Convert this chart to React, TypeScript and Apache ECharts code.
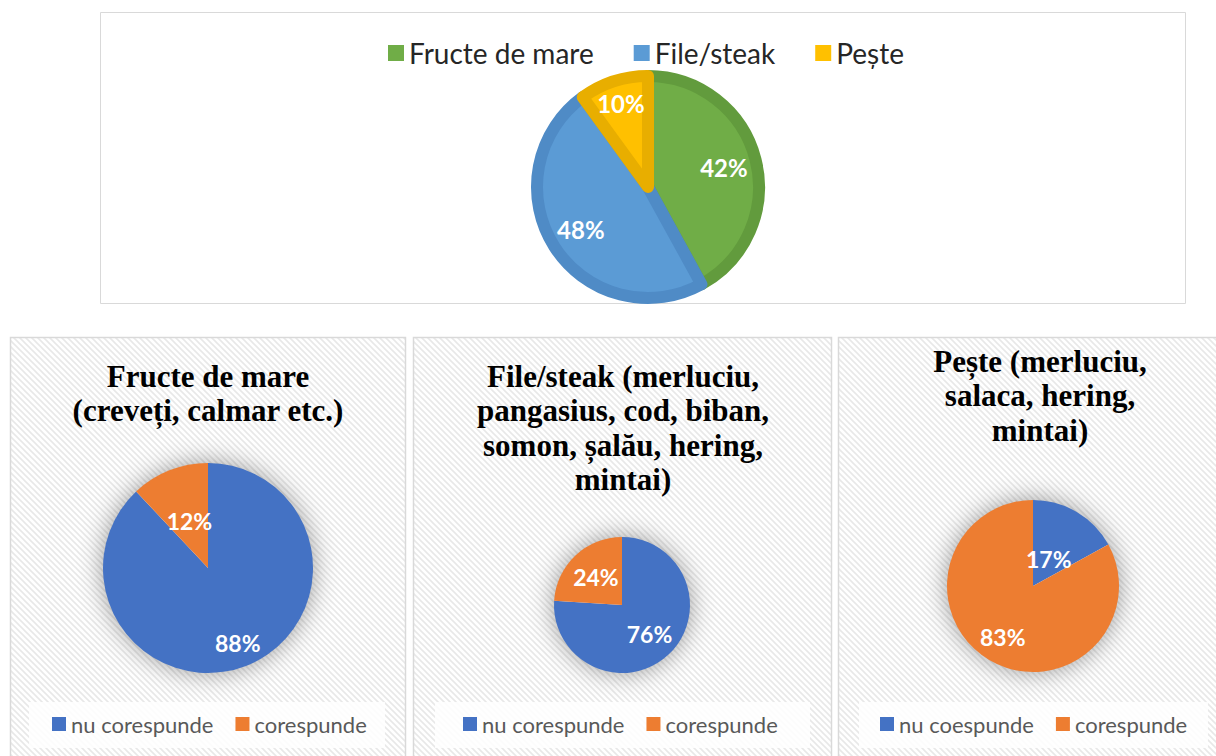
import React, { useEffect, useRef } from "react";
import * as echarts from "echarts";

// ---- data ----
const mainCategories = ["Fructe de mare", "File/steak", "Pește"];
const mainValues = [42, 48, 10];

const panelTitles = [
  "Fructe de mare\n(creveți, calmar etc.)",
  "File/steak (merluciu,\npangasius, cod, biban,\nsomon, șalău, hering,\nmintai)",
  "Pește (merluciu,\nsalaca, hering,\nmintai)",
];
const panel1Categories = ["nu corespunde", "corespunde"];
const panel1Values = [88, 12];
const panel2Categories = ["nu corespunde", "corespunde"];
const panel2Values = [76, 24];
const panel3Categories = ["nu coespunde", "corespunde"];
const panel3Values = [17, 83];

// ---- styles / layout ----
const mainColors = ["#70AD47", "#5B9BD5", "#FFC000"];
const mainBorders = ["#629B3D", "#4F8BC6", "#E8AE00"];
const pairColors = ["#4472C4", "#ED7D31"];

const topBox = { x: 100, y: 12, w: 1085, h: 291 };
const mainPie = { cx: 648, cy: 187, r: 117, labelPos: [0.67, 0.68, 0.75] };

const panels = [
  { x: 10, y: 337, w: 395, h: 430, titleX: 208, titleY: 359, cx: 208, cy: 568, r: 105, labelPos: [0.77, 0.48], legendLeft: 52, lbx: 29, lbw: 356 },
  { x: 413, y: 337, w: 418, h: 430, titleX: 623, titleY: 359, cx: 622, cy: 605, r: 68, labelPos: [0.59, 0.56], legendLeft: 463, lbx: 435, lbw: 375 },
  { x: 838, y: 337, w: 400, h: 430, titleX: 1040, titleY: 344, cx: 1033, cy: 586, r: 86, labelPos: [0.36, 0.69], legendLeft: 880, lbx: 859, lbw: 349 },
];
const panelData = [
  { cats: panel1Categories, vals: panel1Values },
  { cats: panel2Categories, vals: panel2Values },
  { cats: panel3Categories, vals: panel3Values },
];

function stripeTile() {
  const c = document.createElement("canvas");
  c.width = 6;
  c.height = 6;
  const g = c.getContext("2d")!;
  g.fillStyle = "#ffffff";
  g.fillRect(0, 0, 6, 6);
  g.strokeStyle = "#e8e8e8";
  g.lineWidth = 1.6;
  g.beginPath();
  g.moveTo(-1, -1);
  g.lineTo(7, 7);
  g.moveTo(-1, 5);
  g.lineTo(1, 7);
  g.moveTo(5, -1);
  g.lineTo(7, 1);
  g.stroke();
  return c.toDataURL();
}

const radialLayout = (cx: number, cy: number, R: number, factors: number[]) => (p: any) => {
  const rc = p.labelRect;
  const lx = rc.x + rc.width / 2;
  const ly = rc.y + rc.height / 2;
  const d0 = Math.hypot(lx - cx, ly - cy) || 1;
  const s = (factors[p.dataIndex] * R) / d0;
  return { dx: (lx - cx) * (s - 1), dy: (ly - cy) * (s - 1) };
};

const pctFormatter = (p: any) => Math.round(p.percent) + "%";

export default function App() {
  const ref = useRef<HTMLDivElement>(null);
  useEffect(() => {
    if (!ref.current) return;
    const chart = echarts.init(ref.current, undefined, { renderer: "svg" });
    const tile = stripeTile();
    const pattern: any = { image: tile, repeat: "repeat", imageWidth: 6, imageHeight: 6 };

    const graphics: any[] = [
      {
        type: "rect",
        z: -10,
        shape: { x: topBox.x + 0.5, y: topBox.y + 0.5, width: topBox.w, height: topBox.h },
        style: { fill: "#ffffff", stroke: "#d9d9d9", lineWidth: 1 },
        silent: true,
      },
    ];
    panels.forEach((pn, i) => {
      graphics.push({
        type: "rect",
        z: -10,
        shape: { x: pn.x + 0.5, y: pn.y + 0.5, width: pn.w, height: pn.h },
        style: { fill: pattern, stroke: "#d9d9d9", lineWidth: 1.5 },
        silent: true,
      });
      graphics.push({
        type: "circle",
        z: -5,
        shape: { cx: pn.cx, cy: pn.cy, r: pn.r - 1 },
        style: { fill: "#ffffff", shadowBlur: 26, shadowColor: "rgba(0,0,0,0.42)" },
        silent: true,
      });
      graphics.push({
        type: "rect",
        z: -5,
        shape: { x: pn.lbx, y: 702, width: pn.lbw, height: 46 },
        style: { fill: "rgba(255,255,255,0.85)" },
        silent: true,
      });
      graphics.push({
        type: "text",
        z: 5,
        x: pn.titleX,
        y: pn.titleY,
        style: {
          text: panelTitles[i],
          align: "center",
          verticalAlign: "top",
          fontFamily: "'Liberation Serif', 'Times New Roman', serif",
          fontWeight: "bold",
          fontSize: 31,
          lineHeight: 34.5,
          fill: "#000000",
        },
        silent: true,
      });
    });

    const series: any[] = [
      {
        type: "pie",
        center: [mainPie.cx, mainPie.cy],
        radius: mainPie.r - 6,
        startAngle: 90,
        clockwise: true,
        avoidLabelOverlap: false,
        silent: true,
        emphasis: { disabled: true },
        data: mainCategories.map((n, i) => ({
          name: n,
          value: mainValues[i],
          itemStyle: { color: mainColors[i], borderColor: mainBorders[i], borderWidth: 12, borderJoin: "round" },
        })),
        label: {
          show: true,
          position: "inside",
          formatter: pctFormatter,
          color: "#ffffff",
          fontFamily: "Lato",
          fontWeight: "bold",
          fontSize: 24,
        },
        labelLine: { show: false },
        labelLayout: radialLayout(mainPie.cx, mainPie.cy, mainPie.r, mainPie.labelPos),
      },
    ];
    panels.forEach((pn, i) => {
      series.push({
        type: "pie",
        center: [pn.cx, pn.cy],
        radius: pn.r,
        startAngle: 90,
        clockwise: true,
        avoidLabelOverlap: false,
        silent: true,
        emphasis: { disabled: true },
        data: panelData[i].cats.map((n, j) => ({
          name: n,
          value: panelData[i].vals[j],
          itemStyle: { color: pairColors[j] },
        })),
        label: {
          show: true,
          position: "inside",
          formatter: pctFormatter,
          color: "#ffffff",
          fontFamily: "Lato",
          fontWeight: "bold",
          fontSize: 23,
        },
        labelLine: { show: false },
        labelLayout: radialLayout(pn.cx, pn.cy, pn.r, pn.labelPos),
      });
    });

    const legends: any[] = [
      {
        data: mainCategories,
        left: 388,
        top: 39,
        padding: 0,
        icon: "rect",
        itemWidth: 16,
        itemHeight: 16,
        itemGap: 40,
        selectedMode: false,
        itemStyle: { borderWidth: 0 },
        textStyle: { fontFamily: "Lato", fontSize: 28, color: "#262626" },
      },
    ];
    panels.forEach((pn, i) => {
      legends.push({
        data: panelData[i].cats,
        left: pn.legendLeft,
        top: 713,
        padding: 0,
        icon: "rect",
        itemWidth: 14,
        itemHeight: 14,
        itemGap: 22,
        selectedMode: false,
        itemStyle: { borderWidth: 0 },
        textStyle: { fontFamily: "Lato", fontSize: 22, color: "#595959" },
      });
    });

    chart.setOption({
      animation: false,
      backgroundColor: "#ffffff",
      graphic: { elements: graphics },
      legend: legends,
      series,
    });
    return () => chart.dispose();
  }, []);
  return (
    <div
      ref={ref}
      style={{ position: "absolute", left: 0, top: 0, width: 1216, height: 756 }}
    />
  );
}
